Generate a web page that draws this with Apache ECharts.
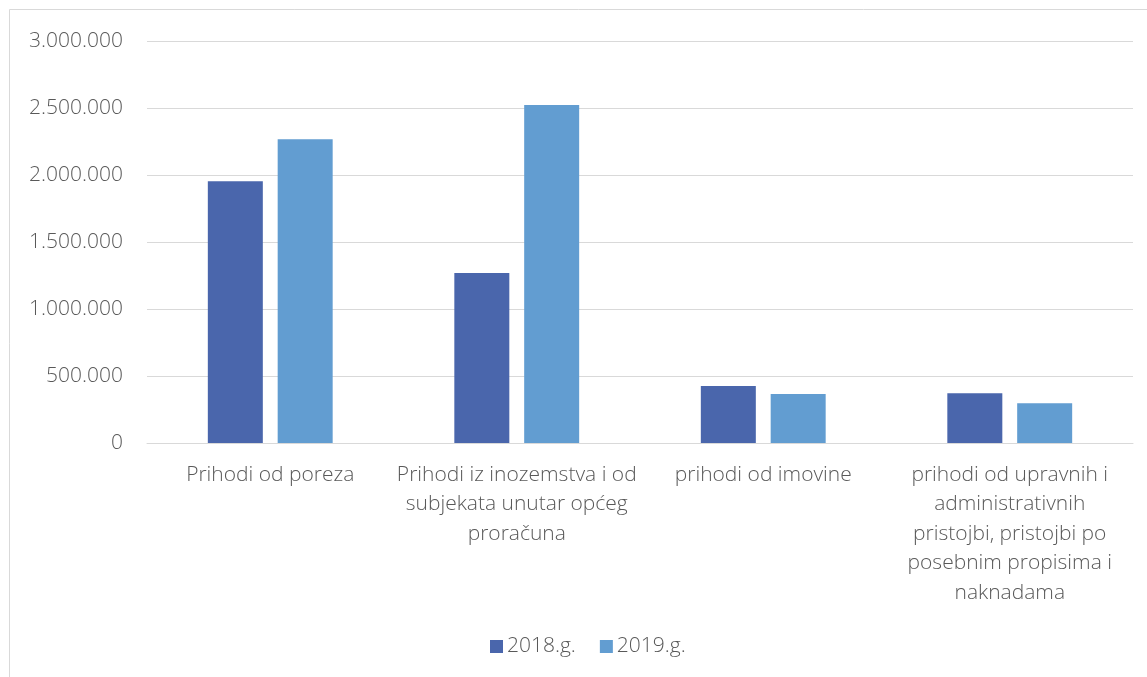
<!DOCTYPE html>
<html>
<head>
<meta charset="utf-8">
<script src="https://cdn.jsdelivr.net/npm/echarts@6/dist/echarts.min.js"></script>
<style>html,body{margin:0;padding:0;background:#fff}#c{width:1147px;height:677px}</style>
</head>
<body>
<div id="c"></div>
<script>
const categories = [
  'Prihodi od poreza',
  'Prihodi iz inozemstva i od\nsubjekata unutar općeg\nproračuna',
  'prihodi od imovine',
  'prihodi od upravnih i\nadministrativnih\npristojbi, pristojbi po\nposebnim propisima i\nnaknadama'
];
const seriesNames = ['2018.g.', '2019.g.'];
const values2018 = [1953000, 1268000, 425000, 371000];
const values2019 = [2266000, 2522000, 366000, 296000];
const yTicks = [0, 500000, 1000000, 1500000, 2000000, 2500000, 3000000];

const font = "'Open Sans', sans-serif";
const chart = echarts.init(document.getElementById('c'), null, {renderer: 'canvas'});
function fmt(v) { return String(Math.round(v)).replace(/\B(?=(\d{3})+(?!\d))/g, '.'); }
chart.setOption({
  animation: false,
  backgroundColor: '#fff',
  graphic: [{
    type: 'rect', silent: true,
    shape: {x: 9.5, y: 9.5, width: 1160, height: 690},
    style: {fill: 'none', stroke: '#d9d9d9', lineWidth: 1}
  }],
  grid: {left: 147, right: 14, top: 41, bottom: 234, containLabel: false},
  legend: {
    data: seriesNames, top: 636, left: 490, padding: 0,
    itemWidth: 13, itemHeight: 13, itemGap: 24,
    icon: 'rect',
    textStyle: {fontFamily: font, fontSize: 21, fontWeight: 300, color: '#595959', padding: [0, 0, 0, -1]}
  },
  xAxis: {
    type: 'category', data: categories,
    axisLine: {show: true, lineStyle: {color: '#d9d9d9', width: 1}},
    axisTick: {show: false},
    axisLabel: {
      interval: 0, margin: 17, fontFamily: font, fontSize: 21, fontWeight: 300, color: '#595959',
      lineHeight: 29.5, align: 'center'
    }
  },
  yAxis: {
    type: 'value', min: yTicks[0], max: yTicks[yTicks.length - 1], interval: 500000,
    axisLine: {show: false}, axisTick: {show: false},
    splitLine: {lineStyle: {color: '#d9d9d9', width: 1}},
    axisLabel: {
      margin: 24, fontFamily: font, fontSize: 21, fontWeight: 300, color: '#595959',
      formatter: fmt
    }
  },
  series: [
    {name: seriesNames[0], type: 'bar', data: values2018, barWidth: 55, barGap: '27%',
     itemStyle: {color: '#4a66ac'}},
    {name: seriesNames[1], type: 'bar', data: values2019, barWidth: 55, barGap: '27%',
     itemStyle: {color: '#629dd1'}}
  ]
});
</script>
</body>
</html>
